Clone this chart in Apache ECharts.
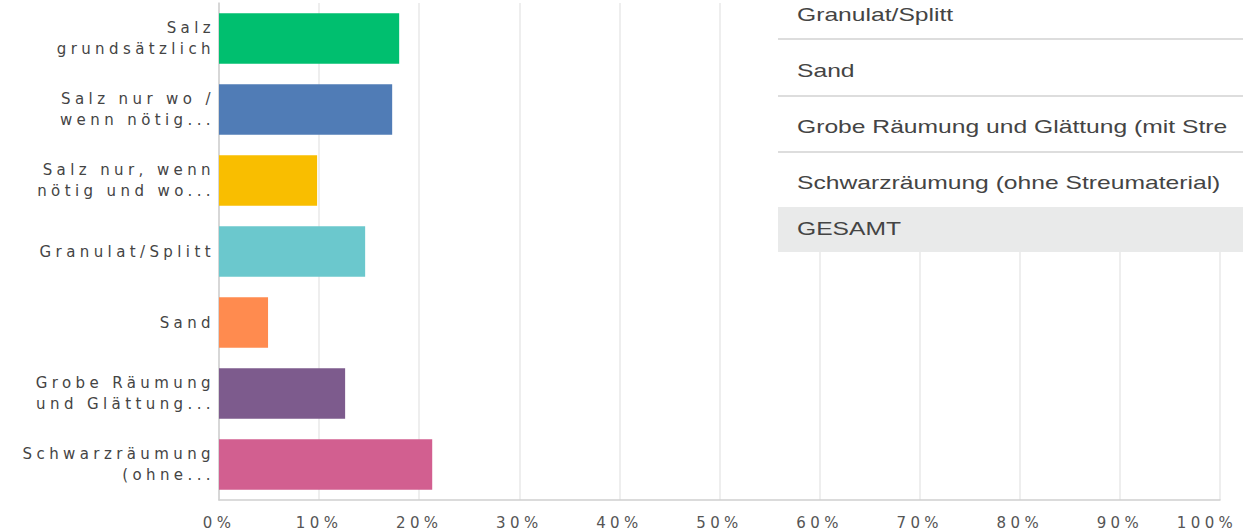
<!DOCTYPE html>
<html><head><meta charset="utf-8">
<script src="https://cdn.jsdelivr.net/npm/echarts@6/dist/echarts.min.js"></script>
<style>
html,body{margin:0;padding:0;background:#fff;}
#c{width:1243px;height:530px;}
#c text{letter-spacing:4.4px;}
#c text[style*="Liberation"]{letter-spacing:0;}
</style></head>
<body><div id="c"></div>
<script>
const categories = [
  'Salz\ngrundsätzlich',
  'Salz nur wo /\nwenn nötig...',
  'Salz nur, wenn\nnötig und wo...',
  'Granulat/Splitt',
  'Sand',
  'Grobe Räumung\nund Glättung...',
  'Schwarzräumung\n(ohne...'
];
const values = [18.0, 17.3, 9.8, 14.6, 4.9, 12.6, 21.3];
const colors = ['#00BF6F', '#507CB6', '#F9BE00', '#6BC8CD', '#FF8B4F', '#7D5B8D', '#D25F90'];
const tableRows = ['Granulat/Splitt', 'Sand', 'Grobe Räumung und Glättung (mit Streumaterial)', 'Schwarzräumung (ohne Streumaterial)', 'GESAMT'];

const chart = echarts.init(document.getElementById('c'), null, {renderer: 'svg'});
const rowY = [15, 71, 127, 183, 229];
const graphics = [
  {type: 'rect', z: 100, shape: {x: 778, y: 0, width: 465, height: 252}, style: {fill: '#ffffff'}},
  {type: 'rect', z: 101, shape: {x: 778, y: 207, width: 465, height: 45}, style: {fill: '#e9eaea'}}
];
[38, 95, 151].forEach(y => graphics.push({type: 'rect', z: 101, shape: {x: 778, y: y, width: 465, height: 2}, style: {fill: '#dddddd'}}));
tableRows.forEach((t, i) => graphics.push({
  type: 'text', z: 102, x: 797, y: rowY[i], scaleX: 1.37,
  style: {text: t, fill: '#444444', font: '18px "Liberation Sans"', verticalAlign: 'middle',
          width: 324, overflow: 'truncate', ellipsis: ''}
}));

chart.setOption({
  animation: false,
  grid: {left: 219, right: 23, top: 3, bottom: 30, containLabel: false},
  xAxis: {
    type: 'value', min: 0, max: 100, interval: 10,
    axisLabel: {
      formatter: v => v === 100 ? '{m|' + v + '%}' : v + '%',
      rich: {m: {padding: [0, 26, 0, 0], color: '#555', fontFamily: 'DejaVu Sans', fontSize: 15}},
      color: '#555', fontFamily: 'DejaVu Sans', fontSize: 15, margin: 15
    },
    axisLine: {show: true, lineStyle: {color: '#cfcfcf', width: 1.5}},
    axisTick: {show: false},
    splitLine: {show: true, lineStyle: {color: '#e8e8e8', width: 1.5}}
  },
  yAxis: {
    type: 'category', data: categories, inverse: true,
    axisLabel: {color: '#444', fontFamily: 'DejaVu Sans', fontSize: 15, lineHeight: 21, margin: 4, align: 'right', padding: [3, 0, 0, 0]},
    axisLine: {show: true, lineStyle: {color: '#cfcfcf', width: 1.5}},
    axisTick: {show: false},
    splitLine: {show: false}
  },
  series: [{
    type: 'bar', data: values.map((v, i) => ({value: v, itemStyle: {color: colors[i]}})),
    barCategoryGap: '29%'
  }],
  graphic: graphics
});
</script></body></html>
